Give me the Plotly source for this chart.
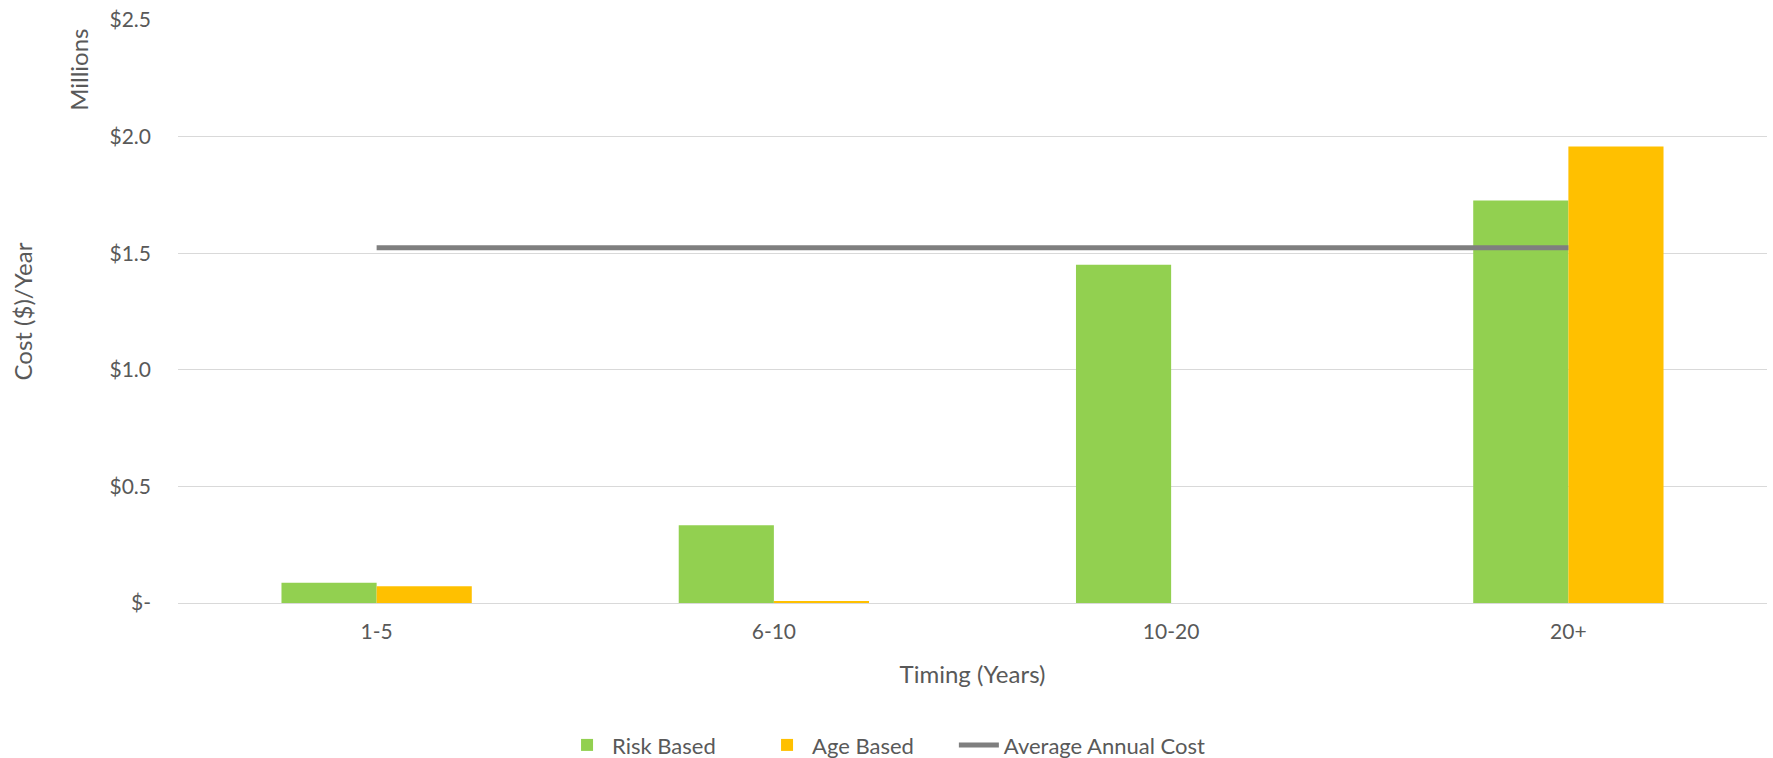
import plotly.graph_objects as go

categories = ["1-5", "6-10", "10-20", "20+"]
risk_based = [0.087, 0.333, 1.451, 1.726]        # $ millions per year
age_based = [0.072, 0.008, 0.0, 1.958]           # $ millions per year
average_annual_cost = [1.523, 1.523, 1.523, 1.523]

y_tick_vals = [0, 0.5, 1.0, 1.5, 2.0, 2.5]
y_tick_text = ["$-", "$0.5", "$1.0", "$1.5", "$2.0", "$2.5"]

FONT = "Lato"
TXT = "#595959"

fig = go.Figure()
fig.add_trace(go.Bar(x=categories, y=risk_based, name="Risk Based",
                     marker=dict(color="#92D050", line=dict(width=0)), legend="legend"))
fig.add_trace(go.Bar(x=categories, y=age_based, name="Age Based",
                     marker=dict(color="#FFC000", line=dict(width=0)), legend="legend"))
fig.add_trace(go.Scatter(x=categories, y=average_annual_cost, name="Average Annual Cost",
                         mode="lines", line=dict(color="#7F7F7F", width=5), legend="legend2"))

legend_common = dict(orientation="h", xref="container", yref="container",
                     xanchor="left", y=0.017, yanchor="middle",
                     font=dict(size=22, color=TXT), itemwidth=40,
                     traceorder="normal", bgcolor="rgba(0,0,0,0)")

fig.update_layout(
    width=1773, height=758,
    margin=dict(l=178, r=6, t=18, b=155),
    paper_bgcolor="white", plot_bgcolor="white",
    font=dict(family=FONT, color=TXT, size=21),
    barmode="group", bargap=0.521, bargroupgap=0,
    showlegend=True,
    legend=dict(**legend_common, x=0.317, entrywidth=145, entrywidthmode="pixels"),
    legend2=dict(**legend_common, x=0.538),
    xaxis=dict(title=dict(text="Timing (Years)", font=dict(size=24, color=TXT), standoff=24),
               showgrid=False, zeroline=False, showline=False,
               ticks="", ticklabelstandoff=14,
               tickfont=dict(size=21, color=TXT)),
    yaxis=dict(title=dict(text="Cost ($)/Year", font=dict(size=24, color=TXT), standoff=70),
               range=[0, 2.5], tickvals=y_tick_vals, ticktext=y_tick_text,
               showgrid=True, gridcolor="#D9D9D9", gridwidth=1.3,
               zeroline=True, zerolinecolor="#D9D9D9", zerolinewidth=1.3,
               showline=False, ticks="", ticklabelstandoff=26,
               tickfont=dict(size=21, color=TXT)),
    annotations=[dict(text="Millions", xref="paper", yref="paper",
                      x=-0.0623, y=0.9145, xanchor="center", yanchor="middle",
                      textangle=-90, showarrow=False,
                      font=dict(size=24, color=TXT, family=FONT))],
)

fig.write_html("out.html")
